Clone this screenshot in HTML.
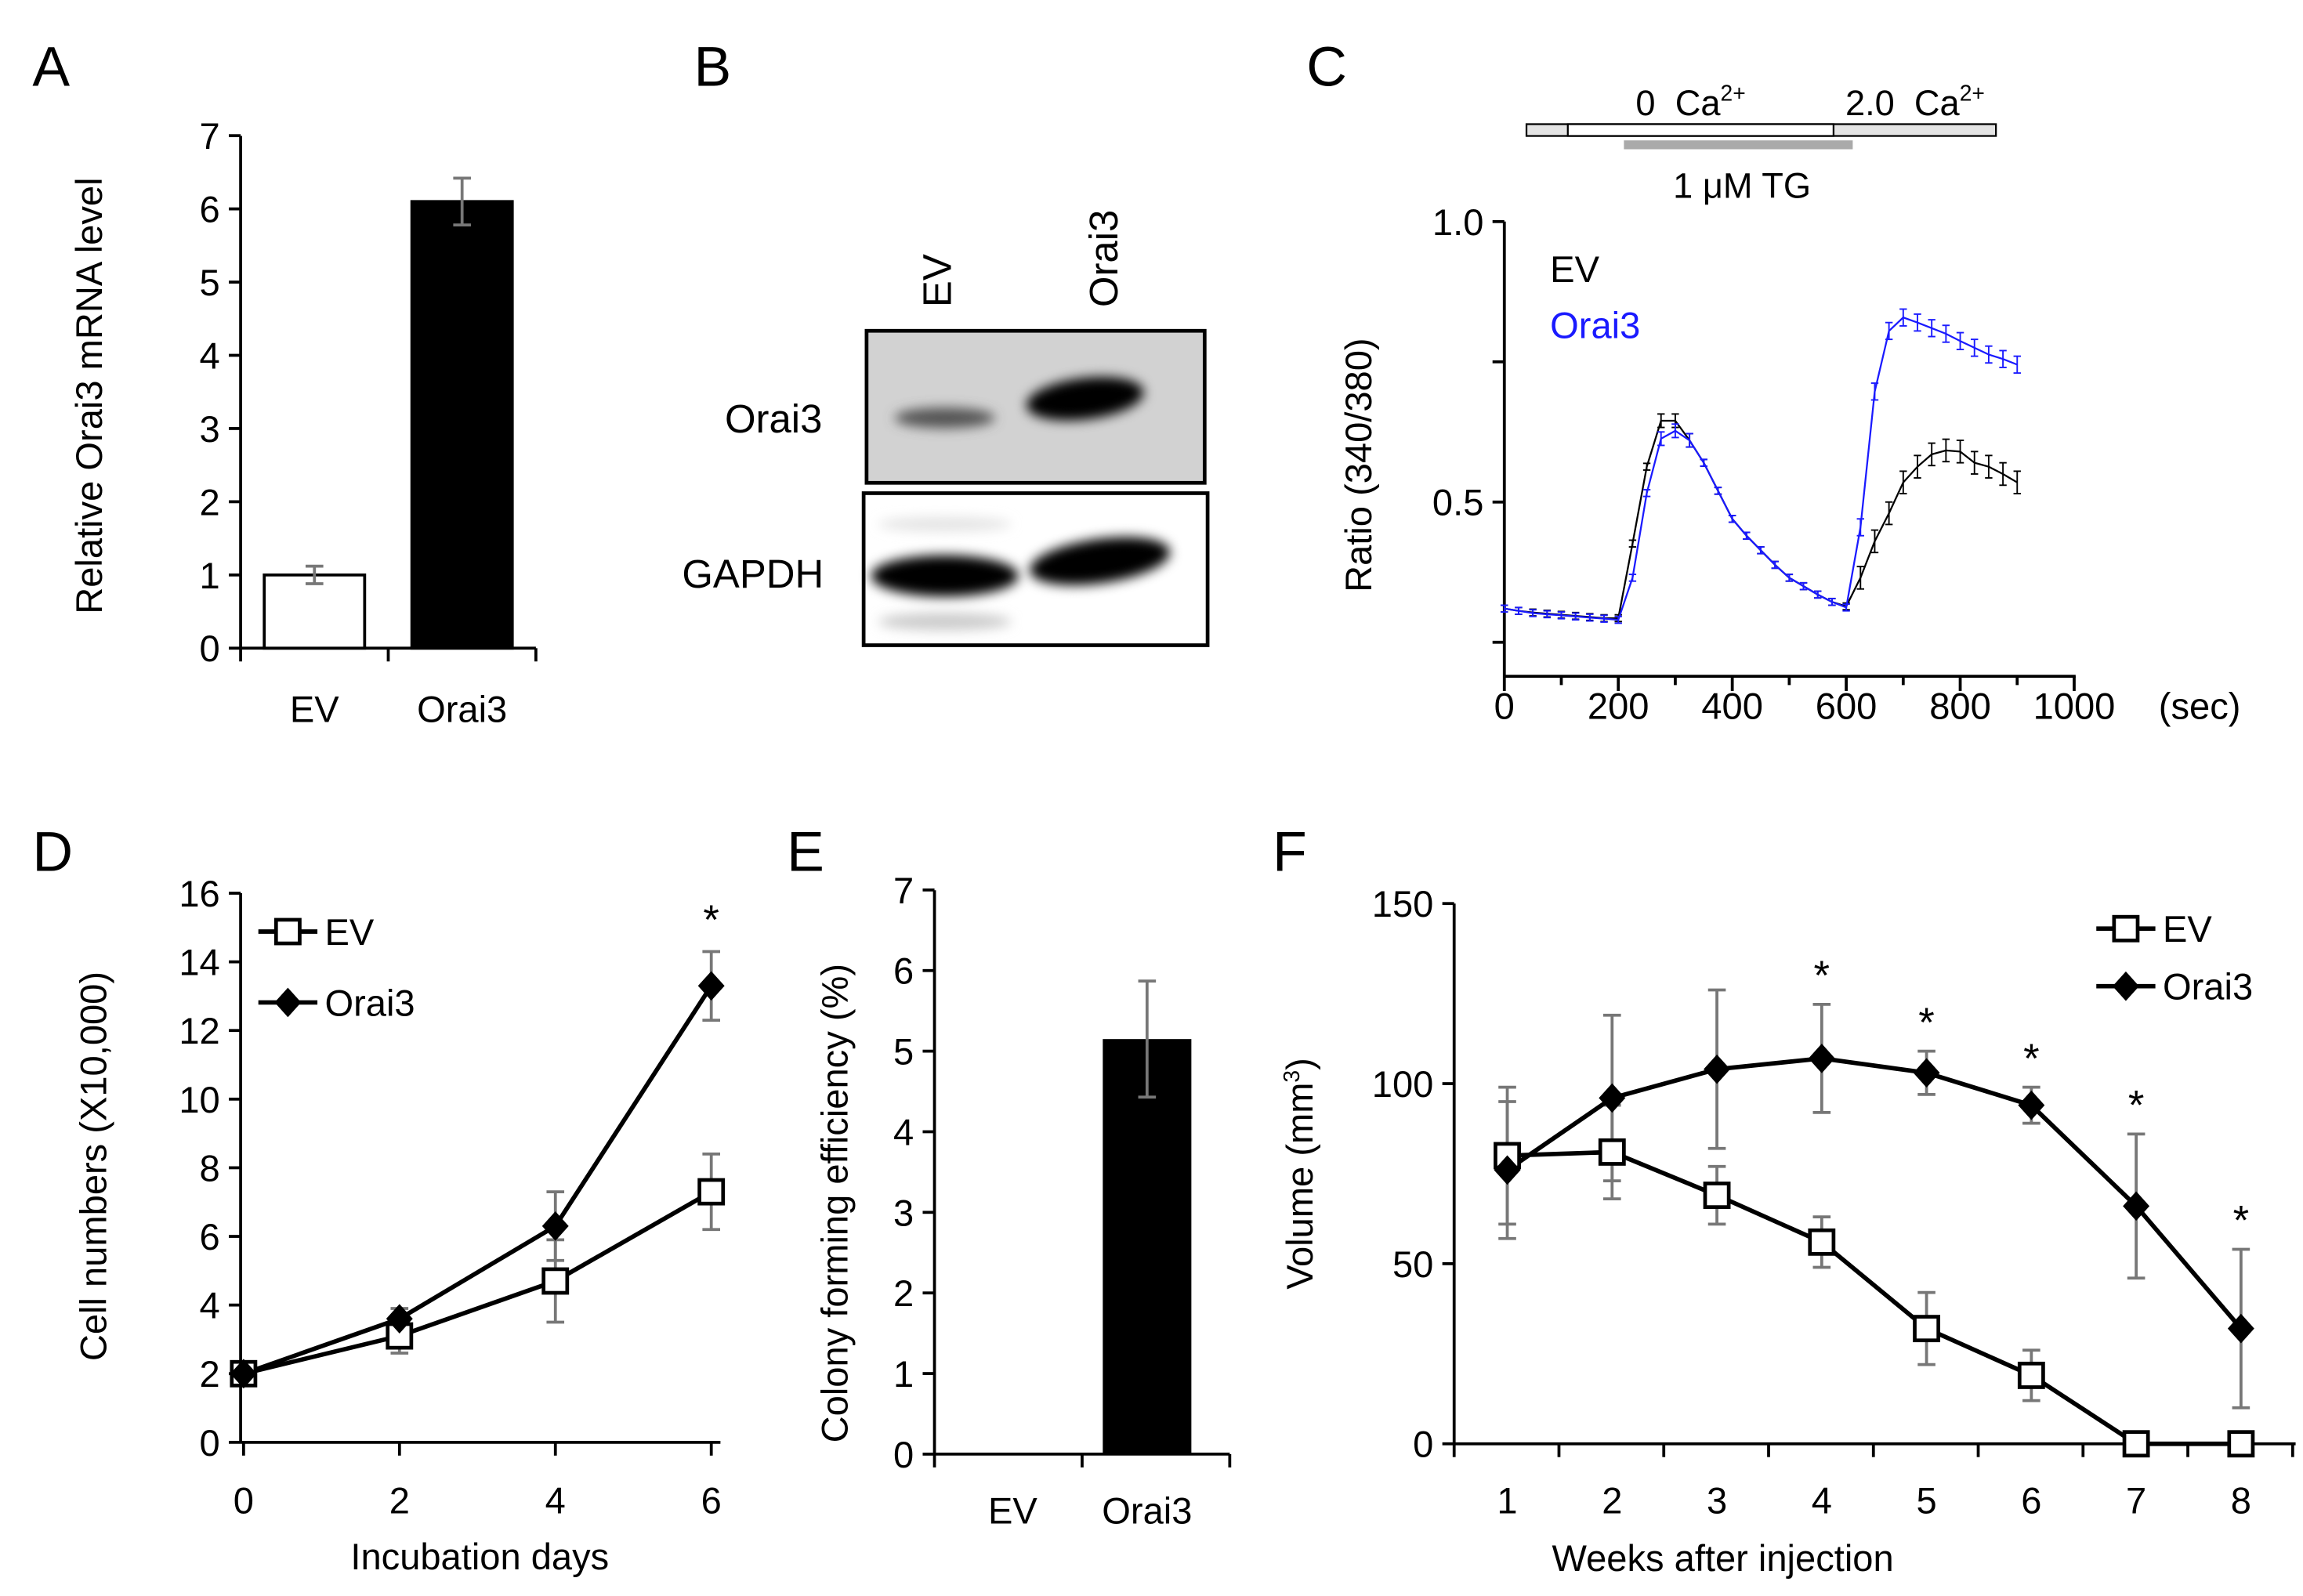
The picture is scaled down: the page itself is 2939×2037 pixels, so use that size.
<!DOCTYPE html>
<html><head><meta charset="utf-8"><style>
html,body{margin:0;padding:0;background:#fff;}
svg{display:block;font-family:"Liberation Sans",sans-serif;}
</style></head><body>
<svg id="fig" width="2939" height="2037" viewBox="0 0 1560 1081" xmlns="http://www.w3.org/2000/svg">
<defs>
<filter id="blur3" x="-30%" y="-80%" width="160%" height="260%"><feGaussianBlur stdDeviation="4"/></filter>
</defs>
<g id="root"></g>
<g>
<text x="22" y="58" font-size="38">A</text>
<text x="470" y="58" font-size="38">B</text>
<text x="885" y="58" font-size="38">C</text>
<text x="22" y="590" font-size="38">D</text>
<text x="533" y="590" font-size="38">E</text>
<text x="862" y="590" font-size="38">F</text>
<text transform="translate(644,208) rotate(-90)" font-size="27">EV</text>
<text transform="translate(757,208) rotate(-90)" font-size="27">Orai3</text>
<text x="524" y="293" font-size="27" text-anchor="middle">Orai3</text>
<text x="510" y="398" font-size="27" text-anchor="middle">GAPDH</text>
<rect x="587" y="224" width="229" height="103" fill="#d2d2d2" stroke="#000" stroke-width="2.5"/>
<ellipse cx="640" cy="283" rx="34" ry="7" fill="#555" filter="url(#blur3)"/>
<ellipse cx="735" cy="270" rx="40" ry="14" fill="#000" filter="url(#blur3)" transform="rotate(-7 735 270)"/>
<rect x="585" y="334" width="233" height="103" fill="#fff" stroke="#000" stroke-width="2.5"/>
<ellipse cx="640" cy="390" rx="50" ry="14" fill="#000" filter="url(#blur3)"/>
<ellipse cx="745" cy="380" rx="48" ry="15" fill="#000" filter="url(#blur3)" transform="rotate(-8 745 380)"/>
<ellipse cx="640" cy="421" rx="45" ry="6" fill="#ccc" filter="url(#blur3)"/>
<ellipse cx="640" cy="355" rx="45" ry="5" fill="#e4e4e4" filter="url(#blur3)"/>
</g>
</svg>
<script>
const aCats = ["EV", "Orai3"];
const aVals = [1.0, 6.1];
const aErr = [0.12, 0.32];
const aTicks = [0,1,2,3,4,5,6,7];

const cTimes = [0,25,50,75,100,125,150,175,200,225,250,275,300,325,350,375,400,425,450,475,500,525,550,575,600,625,650,675,700,725,750,775,800,825,850,875,900];
const cEV = [.31,.306,.303,.301,.299,.297,.295,.293,.293,.426,.563,.645,.645,.61,.57,.52,.47,.44,.414,.388,.365,.35,.335,.322,.314,.365,.43,.48,.535,.563,.585,.592,.59,.57,.563,.55,.535];
const cOrai3 = [.31,.306,.302,.300,.298,.296,.294,.292,.29,.365,.516,.613,.627,.61,.57,.52,.47,.44,.414,.388,.365,.35,.335,.322,.312,.455,.697,.805,.829,.82,.81,.80,.787,.775,.763,.755,.745];
const cXTicks = [0,200,400,600,800,1000];
const cYTicks = [1.0,0.75,0.5,0.25];
const cYLabels = ["1.0","","0.5",""];

const dDays = [0,2,4,6];
const dEV = [2,3.1,4.7,7.3];
const dEVerr = [0.1,0.5,1.2,1.1];
const dOrai3 = [2,3.6,6.3,13.3];
const dOrai3err = [0.1,0.3,1.0,1.0];
const dYTicks = [0,2,4,6,8,10,12,14,16];

const eCats = ["EV","Orai3"];
const eVals = [0,5.15];
const eErr = [0,0.72];
const eYTicks = [0,1,2,3,4,5,6,7];

const fWeeks = [1,2,3,4,5,6,7,8];
const fEV = [80,81,69,56,32,19,0,0];
const fEVerr = [19,13,8,7,10,7,0,0];
const fOrai3 = [76,96,104,107,103,94,66,32];
const fOrai3err = [19,23,22,15,6,5,20,22];
const fStars = [false,false,false,true,true,true,true,true];
const fYTicks = [0,50,100,150];

const NS="http://www.w3.org/2000/svg";
const root=document.getElementById('root');
function el(tag,attrs,parent){const e=document.createElementNS(NS,tag);for(const k in attrs)e.setAttribute(k,attrs[k]);(parent||root).appendChild(e);return e;}
function txt(s,attrs,parent){const e=el('text',attrs,parent);e.textContent=s;return e;}
function line(x1,y1,x2,y2,c,w,p){return el('line',{x1,y1,x2,y2,stroke:c||'#000','stroke-width':w||2},p);}
function errbar(x,y1,y2,c,cap,w,p){line(x,y1,x,y2,c,w,p);line(x-cap,y1,x+cap,y1,c,w,p);line(x-cap,y2,x+cap,y2,c,w,p);}
function yaxis(g,x,ys,labels,top,bot){line(x,top,x,bot,'#000',2,g);ys.forEach((y,i)=>{line(x-8,y,x,y,'#000',2,g);if(labels[i]!=="")txt(labels[i],{x:x-14,y:y+9,'font-size':25,'text-anchor':'end'},g);});}

{
const g=el('g',{});


const y=v=>439-v*49.6;
const xc=[213,313];
yaxis(g,163,aTicks.map(y),aTicks.map(String),92,439);
line(163,439,363,439,'#000',2,g);
[163,263,363].forEach(x=>line(x,439,x,448,'#000',2,g));
aVals.forEach((v,i)=>{
  const r=el('rect',{x:xc[i]-34,y:y(v),width:68,height:439-y(v),fill:i?'#000':'#fff',stroke:'#000','stroke-width':2},g);
  
  
  errbar(xc[i],y(v+aErr[i]),y(v-aErr[i]),'#777',6,2,g);
  txt(aCats[i],{x:xc[i],y:489,'font-size':25,'text-anchor':'middle'},g);
});
const t=txt('Relative Orai3 mRNA level',{transform:'translate(69,268) rotate(-90)','font-size':25,'text-anchor':'middle'},g);


}

{
const g=el('g',{});


const x=t=>1019+t*0.386;
const y=v=>150+(1-v)*380;
yaxis(g,1019,cYTicks.map(y),cYLabels,150,458);
line(1019,458,1406,458,'#000',2,g);
for(let t=0;t<=1000;t+=100){line(x(t),458,x(t),t%200===0?468:464,'#000',2,g);}
cXTicks.forEach(t=>txt(String(t),{x:x(t),y:487,'font-size':25,'text-anchor':'middle'},g));
txt('(sec)',{x:1490,y:487,'font-size':25,'text-anchor':'middle'},g);
const series=[[cEV,'#000','trace-ev'],[cOrai3,'#1a1aff','trace-orai3']];
series.forEach(([vals,c,nm])=>{
  const pts=vals.map((v,i)=>x(cTimes[i])+','+y(v)).join(' ');
  const p=el('polyline',{points:pts,fill:'none',stroke:c,'stroke-width':1.2},g);
  
  
  vals.forEach((v,i)=>{const e=cTimes[i]>600?(c==='#000'?0.02:0.015):(cTimes[i]>250&&cTimes[i]<350?0.012:0.006);errbar(x(cTimes[i]),y(v+e),y(v-e),c,2.5,1,g);});
});
const l1=txt('EV',{x:1050,y:191,'font-size':25},g);


const l2=txt('Orai3',{x:1050,y:229,'font-size':25,fill:'#1a1aff'},g);


const t=txt('Ratio (340/380)',{transform:'translate(929,315) rotate(-90)','font-size':25,'text-anchor':'middle'},g);


const pg=el('g',{},g);


el('rect',{x:1034,y:84,width:318,height:8,fill:'#e4e4e4',stroke:'#000','stroke-width':1.2},pg);
el('rect',{x:1062,y:84,width:180,height:8,fill:'#fff',stroke:'#000','stroke-width':1.2},pg);
el('rect',{x:1100,y:95,width:155,height:6,fill:'#aaa'},pg);
const a1=el('text',{x:1108,y:78,'font-size':24},pg);
a1.innerHTML='0&#160;&#160;Ca<tspan dy="-10" font-size="15">2+</tspan>';
const a2=el('text',{x:1250,y:78,'font-size':24},pg);
a2.innerHTML='2.0&#160;&#160;Ca<tspan dy="-10" font-size="15">2+</tspan>';
txt('1 μM TG',{x:1180,y:134,'font-size':24,'text-anchor':'middle'},pg);
}

{
const g=el('g',{});


const x=d=>165+d*52.8;
const y=v=>977-v*23.25;
yaxis(g,163,dYTicks.map(y),dYTicks.map(String),605,977);
line(163,977,488,977,'#000',2,g);
dDays.forEach(d=>{line(x(d),977,x(d),986,'#000',2,g);txt(String(d),{x:x(d),y:1025,'font-size':25,'text-anchor':'middle'},g);});
txt('Incubation days',{x:325,y:1063,'font-size':25,'text-anchor':'middle'},g);
const t=txt('Cell numbers (X10,000)',{transform:'translate(72,790) rotate(-90)','font-size':25,'text-anchor':'middle'},g);


[[dOrai3,dOrai3err],[dEV,dEVerr]].forEach(([v,e])=>v.forEach((val,i)=>errbar(x(dDays[i]),y(val+e[i]),y(val-e[i]),'#777',6,2,g)));
const pe=el('polyline',{points:dEV.map((v,i)=>x(dDays[i])+','+y(v)).join(' '),fill:'none',stroke:'#000','stroke-width':3},g);


const po=el('polyline',{points:dOrai3.map((v,i)=>x(dDays[i])+','+y(v)).join(' '),fill:'none',stroke:'#000','stroke-width':3},g);


dEV.forEach((v,i)=>el('rect',{x:x(dDays[i])-8,y:y(v)-8,width:16,height:16,fill:'#fff',stroke:'#000','stroke-width':2.5},g));
dOrai3.forEach((v,i)=>el('path',{d:`M${x(dDays[i])},${y(v)-10}l9,10l-9,10l-9,-10z`,fill:'#000'},g));
txt('*',{x:x(6),y:y(dOrai3[3]+dOrai3err[3])-12,'font-size':28,'text-anchor':'middle'},g);
line(175,631,215,631,'#000',3,g);el('rect',{x:187,y:623,width:16,height:16,fill:'#fff',stroke:'#000','stroke-width':2.5},g);
const le=txt('EV',{x:220,y:640,'font-size':25},g);


line(175,679,215,679,'#000',3,g);el('path',{d:'M195,669l9,10l-9,10l-9,-10z',fill:'#000'},g);
const lo=txt('Orai3',{x:220,y:688,'font-size':25},g);


}

{
const g=el('g',{});


const y=v=>985-v*54.6;
const xc=[683,777];
yaxis(g,633,eYTicks.map(y),eYTicks.map(String),603,985);
line(633,985,833,985,'#000',2,g);
[633,733,833].forEach(x=>line(x,985,x,994,'#000',2,g));
eVals.forEach((v,i)=>{
  if(v>0){const r=el('rect',{x:xc[i]-30,y:y(v),width:60,height:985-y(v),fill:'#000'},g);
  
  
  errbar(xc[i],y(v+eErr[i]),y(v-eErr[i]),'#777',6,2,g);}
  txt(eCats[i],{x:xc[i]+(i?0:3),y:1032,'font-size':25,'text-anchor':'middle'},g);
});
const t=txt('Colony forming efficiency (%)',{transform:'translate(574,815) rotate(-90)','font-size':25,'text-anchor':'middle'},g);


}

{
const g=el('g',{});


const x=w=>1021+(w-1)*71;
const y=v=>978-v*2.44;
yaxis(g,985,fYTicks.map(y),fYTicks.map(String),612,978);
line(985,978,1555,978,'#000',2,g);
for(let w=0;w<=8;w++)line(985+w*71,978,985+w*71,987,'#000',2,g);
fWeeks.forEach(w=>txt(String(w),{x:x(w),y:1025,'font-size':25,'text-anchor':'middle'},g));
txt('Weeks after injection',{x:1167,y:1064,'font-size':25,'text-anchor':'middle'},g);
const t=el('text',{transform:'translate(889,795) rotate(-90)','font-size':25,'text-anchor':'middle'},g);
t.innerHTML='Volume (mm<tspan dy="-9" font-size="15">3</tspan><tspan dy="9">)</tspan>';


[[fOrai3,fOrai3err],[fEV,fEVerr]].forEach(([v,e])=>v.forEach((val,i)=>{if(e[i]>0)errbar(x(fWeeks[i]),y(val+e[i]),y(val-e[i]),'#777',6,2,g);}));
const pe=el('polyline',{points:fEV.map((v,i)=>x(fWeeks[i])+','+y(v)).join(' '),fill:'none',stroke:'#000','stroke-width':3},g);


const po=el('polyline',{points:fOrai3.map((v,i)=>x(fWeeks[i])+','+y(v)).join(' '),fill:'none',stroke:'#000','stroke-width':3},g);


fEV.forEach((v,i)=>el('rect',{x:x(fWeeks[i])-8,y:y(v)-8,width:16,height:16,fill:'#fff',stroke:'#000','stroke-width':2.5},g));
fOrai3.forEach((v,i)=>el('path',{d:`M${x(fWeeks[i])},${y(v)-10}l9,10l-9,10l-9,-10z`,fill:'#000'},g));
fStars.forEach((s,i)=>{if(s)txt('*',{x:x(fWeeks[i]),y:y(fOrai3[i]+fOrai3err[i])-10,'font-size':28,'text-anchor':'middle'},g);});
line(1420,629,1460,629,'#000',3,g);el('rect',{x:1432,y:621,width:16,height:16,fill:'#fff',stroke:'#000','stroke-width':2.5},g);
const le=txt('EV',{x:1465,y:638,'font-size':25},g);


line(1420,668,1460,668,'#000',3,g);el('path',{d:'M1440,658l9,10l-9,10l-9,-10z',fill:'#000'},g);
const lo=txt('Orai3',{x:1465,y:677,'font-size':25},g);


}
</script>
</body></html>
